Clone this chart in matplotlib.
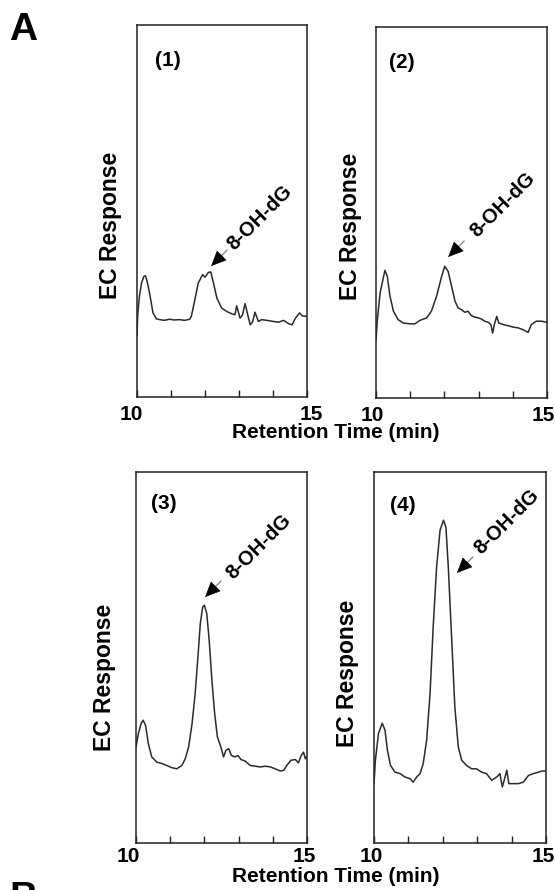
import numpy as np
import matplotlib
matplotlib.use("Agg")
import matplotlib.pyplot as plt

plt.rcParams['font.family'] = ['Liberation Sans', 'DejaVu Sans']
plt.rcParams['font.weight'] = 'bold'

# ---------------- data ----------------
panel_labels = ['(1)', '(2)', '(3)', '(4)']
peak_name = '8-OH-dG'
x_label = 'Retention Time (min)'
y_label = 'EC Response'
x_ticks = [10, 11, 12, 13, 14, 15]
x_ticklabels = ['10', '', '', '', '', '15']

t1 = [10.00, 10.02, 10.07, 10.13, 10.20, 10.25, 10.30, 10.37, 10.47, 10.57, 10.67, 10.80,
      10.95, 11.10, 11.25, 11.40, 11.55, 11.60, 11.70, 11.80, 11.93, 12.00, 12.10, 12.17,
      12.25, 12.35, 12.49, 12.64, 12.78, 12.88, 12.93, 13.03, 13.10, 13.18, 13.26, 13.33,
      13.40, 13.47, 13.57, 13.67, 13.82, 14.02, 14.16, 14.31, 14.46, 14.56, 14.66, 14.78,
      14.86, 14.95, 15.00]
y1 = [16.5, 22.0, 27.0, 30.5, 32.4, 32.6, 31.0, 27.9, 22.6, 21.0, 20.8, 20.6,
      20.9, 20.7, 20.8, 20.6, 20.9, 21.7, 26.1, 30.6, 32.9, 32.2, 33.5, 33.6,
      30.6, 26.6, 23.9, 23.0, 22.4, 22.1, 24.5, 21.2, 22.0, 25.1, 22.0, 19.4,
      20.2, 22.8, 20.3, 20.8, 20.6, 20.3, 20.1, 20.6, 19.7, 19.4, 21.2, 22.6,
      21.8, 21.7, 21.8]

t2 = [10.00, 10.04, 10.12, 10.26, 10.33, 10.41, 10.51, 10.65, 10.80, 10.99, 11.14, 11.28,
      11.48, 11.62, 11.77, 11.92, 12.01, 12.11, 12.21, 12.31, 12.40, 12.50, 12.60, 12.69,
      12.79, 12.89, 12.99, 13.08, 13.18, 13.28, 13.36, 13.41, 13.46, 13.53, 13.59, 13.72,
      13.86, 14.01, 14.16, 14.30, 14.45, 14.54, 14.69, 14.84, 15.00]
y2 = [15.7, 21.1, 28.3, 34.4, 32.8, 27.4, 23.4, 21.1, 20.2, 20.0, 20.0, 20.9,
      21.6, 23.4, 27.4, 32.8, 35.5, 34.1, 30.1, 26.1, 24.3, 23.8, 23.1, 23.4,
      22.2, 21.8, 21.6, 21.3, 20.7, 20.4, 19.8, 17.5, 19.8, 22.0, 20.2, 19.8,
      19.5, 19.1, 18.9, 18.4, 17.7, 19.8, 20.7, 20.7, 20.4]

t3 = [10.00, 10.07, 10.15, 10.21, 10.28, 10.36, 10.46, 10.61, 10.76, 10.90, 11.05, 11.19,
      11.34, 11.44, 11.54, 11.64, 11.73, 11.81, 11.88, 11.95, 12.00, 12.07, 12.14, 12.22,
      12.30, 12.38, 12.48, 12.56, 12.63, 12.71, 12.79, 12.89, 12.98, 13.07, 13.19, 13.34,
      13.49, 13.63, 13.78, 13.93, 14.07, 14.22, 14.32, 14.41, 14.53, 14.66, 14.75, 14.83,
      14.90, 14.95, 15.00]
y3 = [25.9, 29.5, 32.2, 33.1, 31.7, 26.8, 23.2, 21.8, 21.4, 20.9, 20.3, 20.0,
      20.9, 22.7, 25.9, 32.2, 40.3, 50.1, 59.1, 63.6, 64.1, 61.8, 54.6, 43.8,
      34.9, 28.6, 25.9, 23.2, 25.0, 25.4, 23.6, 23.2, 23.6, 22.5, 22.1, 20.9,
      20.7, 20.5, 20.7, 20.5, 20.0, 19.4, 19.6, 20.9, 22.3, 22.5, 21.6, 23.6,
      24.5, 22.7, 23.4]

t4 = [10.00, 10.04, 10.13, 10.24, 10.32, 10.39, 10.48, 10.61, 10.76, 10.90, 11.05, 11.14,
      11.24, 11.34, 11.43, 11.53, 11.63, 11.72, 11.82, 11.92, 12.02, 12.09, 12.16, 12.26,
      12.35, 12.45, 12.55, 12.69, 12.84, 12.98, 13.13, 13.27, 13.42, 13.57, 13.66, 13.73,
      13.81, 13.86, 13.92, 14.05, 14.20, 14.34, 14.49, 14.63, 14.79, 14.88, 15.00]
y4 = [16.0, 22.3, 29.5, 32.3, 30.4, 25.0, 20.9, 19.1, 18.7, 17.8, 17.3, 16.4,
      17.8, 18.7, 21.4, 27.7, 40.3, 58.2, 74.4, 84.3, 87.0, 85.2, 74.4, 54.6,
      36.7, 25.9, 22.3, 20.9, 20.0, 20.0, 19.1, 18.7, 16.9, 17.8, 18.7, 15.1,
      17.8, 19.6, 16.0, 16.0, 16.0, 16.4, 18.2, 18.7, 19.1, 19.4, 19.4]

times = [t1, t2, t3, t4]
responses = [y1, y2, y3, y4]

# arrow tip positions (data coords) for the 8-OH-dG annotation
arrow_tip_t = [12.18, 12.11, 12.02, 12.41]
arrow_tip_y = [35.2, 38.0, 66.3, 72.8]

# ---------------- layout / style ----------------
W, H = 555, 890
fig = plt.figure(figsize=(W / 100, H / 100), dpi=100)

# axes boxes in pixels: left, top, right, bottom
boxes = [(137, 25, 307, 397), (376, 27, 547, 398),
         (136, 472, 307, 843), (374, 472, 546, 843)]
ylabel_pos = [(111, 225), (351, 226), (105, 677), (347, 673)]
num_pos = [(0.18, 0.905), (0.15, 0.905), (0.16, 0.915), (0.17, 0.91)]
text_off = [(19, 19), (25, 23), (24, 21), (21, 22)]
# horizontal pixel shifts of the "10" and "15" labels relative to their ticks
lab_shift = [(-6, 4), (-4, -4), (-8, -3), (-3, -3)]
lab_dy = [-8, -8, -4, -4]
line_color = '#2a2a2a'


def fx(px):
    return px / W


def fy(py):
    return 1 - py / H


for i in range(4):
    l, t, r, b = boxes[i]
    ax = fig.add_axes([fx(l), fy(b), (r - l) / W, (b - t) / H])
    ax.plot(times[i], responses[i], color=line_color, lw=1.1)
    ax.set_xlim(10, 15)
    ax.set_ylim(0, 100)
    ax.set_yticks([])
    ax.set_xticks(x_ticks)
    ax.set_xticklabels([])
    ax.tick_params(axis='x', direction='in', length=5, width=1, colors='#222222')
    for s in ax.spines.values():
        s.set_linewidth(1.1)
        s.set_color('#222222')

    # tick labels (only first and last are labelled)
    labelled = [(x, s) for x, s in zip(x_ticks, x_ticklabels) if s]
    for (xv, s), dx in zip(labelled, lab_shift[i]):
        ax.annotate(s, xy=(xv, 0), xycoords=('data', 'axes fraction'),
                    xytext=(dx, lab_dy[i]), textcoords='offset pixels',
                    ha='center', va='top', fontsize=15, fontweight='bold',
                    annotation_clip=False)

    ax.text(num_pos[i][0], num_pos[i][1], panel_labels[i], transform=ax.transAxes,
            ha='center', va='center', fontsize=15, fontweight='bold')

    tip = (arrow_tip_t[i], arrow_tip_y[i])
    # gray shaft
    ax.annotate('', xy=tip, xytext=(16, 16), textcoords='offset pixels',
                arrowprops=dict(arrowstyle='-', color='#8a8a8a', lw=1.0,
                                shrinkA=0, shrinkB=8))
    # black head
    ax.annotate('', xy=tip, xytext=(10, 10), textcoords='offset pixels',
                arrowprops=dict(arrowstyle='-|>,head_length=1.0,head_width=0.45',
                                color='black', lw=0.5, shrinkA=0, shrinkB=0,
                                mutation_scale=10))
    ax.annotate(peak_name, xy=tip, xytext=text_off[i], textcoords='offset pixels',
                rotation=45, rotation_mode='anchor', ha='left', va='center',
                fontsize=14.5, fontweight='bold', annotation_clip=False)

    fig.text(fx(ylabel_pos[i][0]), fy(ylabel_pos[i][1]), y_label, rotation=90,
             ha='center', va='center', fontsize=16.5, fontweight='bold')

fig.text(fx(336), fy(433), x_label, ha='center', va='center', fontsize=15, fontweight='bold')
fig.text(fx(336), fy(877), x_label, ha='center', va='center', fontsize=15, fontweight='bold')

fig.text(fx(23), fy(30), 'A', ha='center', va='center', fontsize=28, fontweight='bold')
fig.text(fx(23), fy(881), 'B', ha='center', va='top', fontsize=28, fontweight='bold')

fig.savefig('out.png', dpi=100)
